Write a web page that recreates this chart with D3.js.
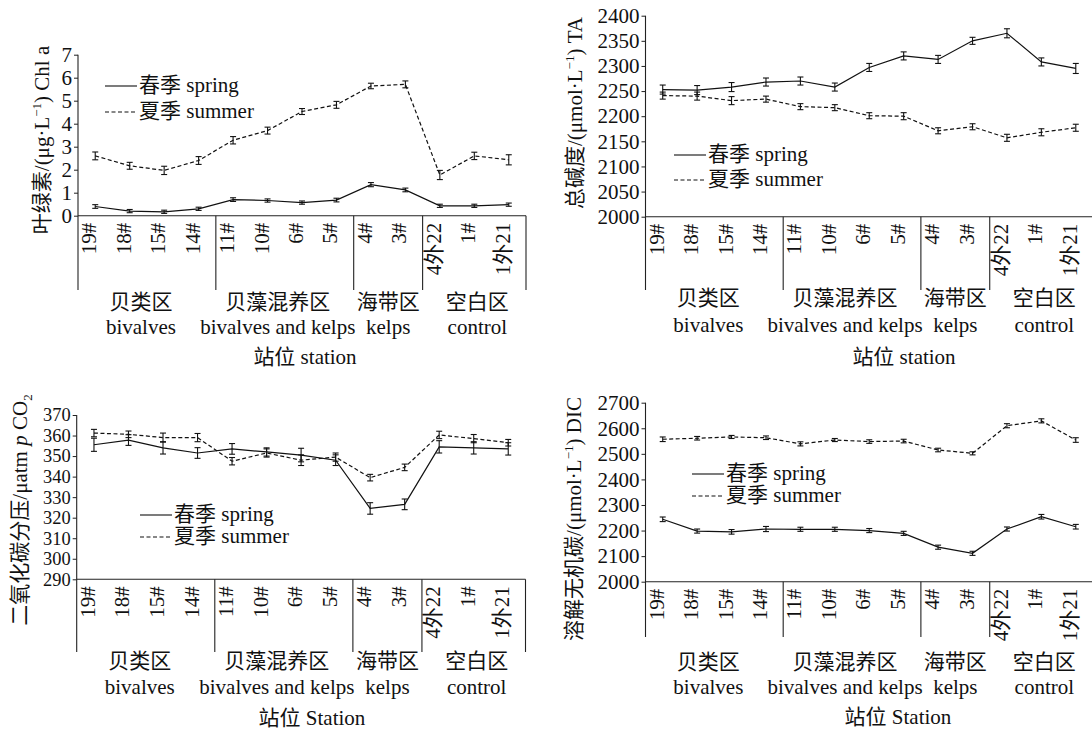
<!DOCTYPE html>
<html><head><meta charset="utf-8">
<script src="https://cdn.jsdelivr.net/npm/d3@7"></script>
<style>
html,body{margin:0;padding:0;background:#fff;}
svg text{font-family:"Liberation Serif","Times New Roman",Tinos,"Noto Sans CJK SC",serif;fill:#111;}
</style></head>
<body>
<svg id="c" width="1092" height="730"></svg>
<script>
// ---------- data ----------
const stations = ["19#","18#","15#","14#","11#","10#","6#","5#","4#","3#","4外22","1#","1外21"];
const groupsCN = ["贝类区","贝藻混养区","海带区","空白区"];
const groupsEN = ["bivalves","bivalves and kelps","kelps","control"];
const groupSizes = [4,4,2,3];
const legendLabels = ["春季 spring","夏季 summer"];

const chlTicks = [0,1,2,3,4,5,6,7];
const chlSpring    = [0.40,0.20,0.17,0.30,0.70,0.66,0.57,0.68,1.35,1.12,0.43,0.43,0.48];
const chlSpringErr = [0.08,0.07,0.07,0.07,0.08,0.07,0.07,0.08,0.09,0.08,0.07,0.07,0.07];
const chlSummer    = [2.60,2.17,1.97,2.40,3.28,3.70,4.53,4.82,5.64,5.71,1.77,2.60,2.43];
const chlSummerErr = [0.17,0.15,0.18,0.17,0.16,0.15,0.13,0.15,0.12,0.15,0.20,0.16,0.22];

const taTicks = [2000,2050,2100,2150,2200,2250,2300,2350,2400];
const taSpring    = [2253,2252,2258,2268,2270,2258,2297,2320,2313,2350,2365,2308,2295];
const taSpringErr = [9,9,9,8,8,8,8,8,8,7,9,8,10];
const taSummer    = [2241,2240,2231,2234,2219,2217,2201,2200,2171,2179,2157,2168,2177];
const taSummerErr = [7,8,8,6,6,6,6,7,6,6,7,7,7];

const pco2Ticks = [290,300,310,320,330,340,350,360,370];
const pco2Spring    = [355.5,357.8,354,351.5,353.5,352,350.5,348,324.5,326.5,354.5,354,353.5];
const pco2SpringErr = [3.2,2.6,3.0,2.6,2.6,2.0,3.3,2.6,2.8,2.6,3.0,3.0,3.0];
const pco2Summer    = [361.2,360.6,359,359,347.5,351.5,348,349.5,339.5,344.5,360.3,358.5,356.5];
const pco2SummerErr = [1.8,1.6,2.2,2.0,1.8,2.0,2.6,2.0,1.6,1.6,1.8,2.0,1.6];

const dicTicks = [2000,2100,2200,2300,2400,2500,2600,2700];
const dicSpring    = [2244,2198,2195,2206,2205,2205,2200,2189,2135,2111,2206,2254,2215];
const dicSpringErr = [9,8,9,10,8,8,8,8,8,8,8,9,9];
const dicSummer    = [2557,2561,2566,2563,2539,2554,2548,2550,2515,2502,2610,2629,2554];
const dicSummerErr = [9,7,6,7,8,6,7,7,7,6,8,8,9];

// ---------- layout ----------
const panels = [
  {ticks:chlTicks, spring:chlSpring, springErr:chlSpringErr, summer:chlSummer, summerErr:chlSummerErr,
   left:78, right:526, top:54.7, bottom:290, g1:302, g2:327, stY:357, stX:305, station:"站位 station",
   lx:105, ly:[86,112], tx:49, ty:140, title:"chl", tickFS:21},
  {ticks:taTicks, spring:taSpring, springErr:taSpringErr, summer:taSummer, summerErr:taSummerErr,
   left:645.5, right:1093, top:15.7, bottom:290, g1:298, g2:325, stY:357, stX:904, station:"站位 station",
   lx:674, ly:[155,180], tx:582, ty:113, title:"ta", tickFS:21},
  {ticks:pco2Ticks, spring:pco2Spring, springErr:pco2SpringErr, summer:pco2Summer, summerErr:pco2SummerErr,
   left:76.7, right:525.5, top:415, bottom:652, g1:661, g2:687, stY:718, stX:312, station:"站位 Station",
   lx:140, ly:[515,537], tx:27, ty:510, title:"pco2", tickFS:18.4},
  {ticks:dicTicks, spring:dicSpring, springErr:dicSpringErr, summer:dicSummer, summerErr:dicSummerErr,
   left:645.5, right:1093, top:402.7, bottom:637, g1:662, g2:687, stY:717, stX:898, station:"站位 Station",
   lx:692, ly:[474,496], tx:581, ty:519, title:"dic", tickFS:21}
];
const baseY = [215.7, 216.7, 579.3, 581.7];
const groupShift = [-6,-7,0,3];
const FS = 21;
const DASH = "4,2.5";

const svg = d3.select("#c");
svg.append("rect").attr("width",1092).attr("height",730).attr("fill","#fff");

panels.forEach((p,pi) => {
  const g = svg.append("g");
  const x = d3.scaleBand().domain(stations).range([p.left, p.right]).padding(0);
  const bw = x.bandwidth();
  const cx = s => x(s) + bw/2;
  const y = d3.scaleLinear().domain([p.ticks[0], p.ticks[p.ticks.length-1]]).range([baseY[pi], p.top]);
  const base = y(p.ticks[0]);

  // y axis ticks
  const ax = g.append("g").attr("transform",`translate(${p.left},0)`)
    .call(d3.axisLeft(y).tickValues(p.ticks).tickSize(4).tickPadding(2).tickFormat(d3.format("d")));
  ax.attr("font-family",null);
  ax.select(".domain").remove();
  ax.selectAll("line").attr("stroke","#222").attr("stroke-width",1);
  ax.selectAll("text").style("font-size",p.tickFS+"px").attr("fill","#111");

  // frame lines
  const ln = (x1,y1,x2,y2,w=1.1) => g.append("line").attr("x1",x1).attr("y1",y1).attr("x2",x2).attr("y2",y2)
      .attr("stroke","#222").attr("stroke-width",w);
  ln(p.left, p.top, p.left, p.bottom);
  ln(p.left, base, p.right, base);
  // group separators
  let idx = 0;
  const groupRanges = [];
  groupSizes.forEach((n,gi) => {
    const a = x(stations[idx]);
    const b = x(stations[idx+n-1]) + bw;
    groupRanges.push([a,b]);
    idx += n;
    if (gi < groupSizes.length-1 || b < 1091) ln(b, base, b, p.bottom);
  });

  // category labels
  stations.forEach(s => {
    g.append("text").attr("transform",`translate(${cx(s)+1},${base+7}) rotate(-90)`)
      .attr("text-anchor","end").style("font-size",FS+"px").text(s);
  });

  // group labels
  groupRanges.forEach((r,gi) => {
    const mx = (r[0]+r[1])/2 + groupShift[gi];
    g.append("text").attr("x",mx).attr("y",p.g1).attr("dy","0.35em").attr("text-anchor","middle")
      .style("font-size",FS+"px").text(groupsCN[gi]);
    g.append("text").attr("x",mx).attr("y",p.g2).attr("dy","0.35em").attr("text-anchor","middle")
      .style("font-size",FS+"px").text(groupsEN[gi]);
  });
  g.append("text").attr("x",p.stX).attr("y",p.stY).attr("dy","0.35em").attr("text-anchor","middle")
    .style("font-size",FS+"px").text(p.station);

  // series
  const series = [
    {vals:p.spring, err:p.springErr, dash:null},
    {vals:p.summer, err:p.summerErr, dash:DASH}
  ];
  const line = d3.line().x((d,i)=>cx(stations[i])).y(d=>y(d));
  series.forEach(se => {
    g.append("path").datum(se.vals).attr("d",line).attr("fill","none").attr("stroke","#111")
      .attr("stroke-width",1.2).attr("stroke-dasharray",se.dash);
    se.vals.forEach((v,i) => {
      const xx = cx(stations[i]), y1 = y(v+se.err[i]), y2 = y(v-se.err[i]);
      g.append("line").attr("x1",xx).attr("x2",xx).attr("y1",y1).attr("y2",y2).attr("stroke","#111").attr("stroke-width",1.1);
      [y1,y2].forEach(yy => g.append("line").attr("x1",xx-3).attr("x2",xx+3).attr("y1",yy).attr("y2",yy)
        .attr("stroke","#111").attr("stroke-width",1.1));
    });
  });

  // legend
  legendLabels.forEach((lab,li) => {
    g.append("line").attr("x1",p.lx).attr("x2",p.lx+32).attr("y1",p.ly[li]).attr("y2",p.ly[li])
      .attr("stroke","#111").attr("stroke-width",1.1).attr("stroke-dasharray", li ? DASH : null);
    g.append("text").attr("x",p.lx+34).attr("y",p.ly[li]-1).attr("dy","0.35em")
      .style("font-size",FS+"px").text(lab);
  });

  // y title
  const t = g.append("text").attr("transform",`translate(${p.tx},${p.ty}) rotate(-90)`)
    .attr("text-anchor","middle").style("font-size",FS+"px");
  const sup = (txt) => { t.append("tspan").attr("dy",-8).style("font-size","13px").text(txt); };
  if (p.title === "chl") {
    t.append("tspan").text("叶绿素/(μg·L"); sup("−1");
    t.append("tspan").attr("dy",8).text(") Chl a");
  } else if (p.title === "ta") {
    t.append("tspan").text("总碱度/(μmol·L"); sup("−1");
    t.append("tspan").attr("dy",8).text(") TA");
  } else if (p.title === "dic") {
    t.append("tspan").text("溶解无机碳/(μmol·L"); sup("−1");
    t.append("tspan").attr("dy",8).text(") DIC");
  } else {
    t.append("tspan").text("二氧化碳分压/μatm ");
    t.append("tspan").style("font-style","italic").text("p");
    t.append("tspan").text(" CO");
    t.append("tspan").attr("dy",5).style("font-size","13px").text("2");
  }
});
</script>
</body></html>
